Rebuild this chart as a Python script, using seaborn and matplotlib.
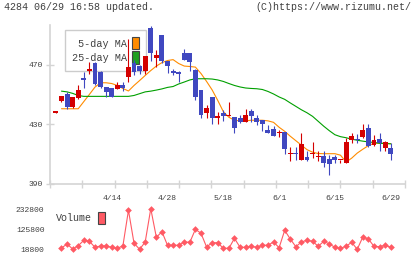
import matplotlib
matplotlib.use("Agg")
import matplotlib.pyplot as plt
from matplotlib.patches import Patch
import numpy as np
import pandas as pd
import seaborn as sns

sns.set_theme(style="white")
plt.rcParams['font.family'] = ['Liberation Mono', 'DejaVu Sans Mono']

# candle data, first candle (index -1) has no volume shown
opens = [437.8, 445.5, 450, 441.5, 447.5, 460.9, 466, 471, 465, 455, 454, 453.8, 456, 461.5, 471, 469,
         465.5, 494.4, 474.5, 490, 472.2, 466, 465, 477.8, 477.8, 466.4, 452.7, 437.8, 448, 434.5, 437.8,
         435.6, 435, 434.5, 431.5, 438.7, 434, 432.7, 426, 426.7, 424, 425, 410, 410.9, 406, 408.2,
         410, 407.8, 408.9, 406.7, 407.8, 406, 404.2, 419.3, 420.4, 421.5, 427.8, 415.8, 420.4, 414.2, 414.2]
highs = [438.2, 449, 451.5, 448.5, 456, 465, 471.5, 472, 465.5, 455, 454, 458, 458, 487, 473, 470,
         476, 496, 479.8, 490, 472.5, 467, 466, 480.5, 478, 467, 453, 442.7, 448.5, 438.2, 439.5,
         445, 435, 436.5, 440, 440, 436.5, 432.7, 429.3, 428.7, 426, 425, 415, 415, 424.4, 412,
         417.8, 412, 412, 409.3, 409.3, 406.4, 421, 424, 423.8, 430, 430, 422.7, 424, 418.7, 417.7]
lows = [437.8, 445, 440, 441, 447, 454, 464, 456, 454, 448, 448, 453.5, 452, 458, 463, 464,
        463.8, 472.7, 468.7, 471, 464.2, 462.7, 458, 473, 466, 446.4, 434, 434.2, 430.5, 430.4, 432,
        435.5, 424.2, 431, 431.5, 431.5, 429.3, 425.5, 424, 422, 421.5, 410, 405.5, 406, 406, 405.3,
        407.5, 405.3, 401.5, 396, 403.8, 403.8, 404.2, 417.5, 417.5, 421, 414.9, 415.5, 412, 412, 406]
closes = [438.2, 448.7, 441.5, 448.2, 452.7, 459.8, 466.5, 457, 455, 451.5, 448, 456, 454, 468.7, 465, 465.5,
          476, 477.5, 476.2, 472.2, 469.3, 464.2, 463.8, 473.3, 471.5, 448.5, 436, 440.9, 434, 434.9, 435.6,
          436, 427.5, 431.5, 436, 435.6, 431.5, 430.5, 424.2, 422.2, 424.5, 413.3, 410.4, 409.8, 417, 406,
          410.4, 408.7, 404.2, 403.3, 406, 406.4, 417.8, 422, 419.3, 426, 415.3, 419.8, 417.5, 417.8, 410.4]

ma5 = [440.4, 440.4, 440.4, 440.4, 445.2, 450, 454.9, 457.8, 457.8, 457.3, 456, 454, 452.3, 456, 459.3,
       462.7, 466, 469, 471.3, 472.7, 473.3, 470.7, 469, 468.7, 468.3, 464, 458.7, 453, 446, 438.5,
       434.7, 432.7, 432.3, 432.3, 432.7, 432.7, 432.7, 432.3, 431.3, 428, 425.3, 422, 419, 416, 413,
       411.3, 410.4, 410.3, 410.3, 410.3, 409.3, 404.7, 407.3, 410.7, 413.3, 415.7, 417.3, 417.3, 417.3, 417]
ma25 = [452.2, 451.7, 450.7, 449.3, 448.7, 448.7, 448.7, 448.7, 448.7, 448.7, 448.7, 448.7, 448.7, 449.3, 450.5,
        451.7, 452.2, 452.9, 453.7, 454.7, 455.3, 457, 458.3, 459.7, 460.5, 460.5, 460.5, 460.3, 459.7, 458.7,
        457.3, 456, 455, 454.3, 454, 453.8, 453.3, 452, 450.3, 448.3, 446.7, 444.3, 442, 439.7, 437.7,
        435.3, 432, 428.7, 425.7, 423, 421.7, 421, 420, 419.3, 418.7, 418.2, 417.8, 417.3, 417.1, 416.9]

volume = [24150, 45550, 18800, 36500, 65300, 60000, 27900, 34850, 34850, 27900,
          22500, 34850, 225800, 49300, 17200, 56250, 234400, 81400, 111400, 38600,
          38600, 38600, 56250, 54600, 124200, 102800, 29500, 52500, 52500, 22500,
          22500, 76000, 27900, 27900, 33200, 27900, 38600, 38600, 56250, 25800,
          118800, 72300, 31100, 56250, 65300, 60000, 33200, 60000, 45550, 27900,
          22500, 33200, 54600, 17200, 83000, 72300, 33200, 31100, 38600, 27900]

date_labels = ["4/14", "4/28", "5/18", "6/1", "6/15", "6/29"]
date_pos = [9, 19, 29, 39, 49, 59]
price_ticks = [390, 430, 470]
vol_ticks = [18800, 125800, 232800]

RED = '#d40000'
BLUE = '#4048c0'
ORANGE = '#ff8c00'
GREEN = '#00a000'
VOLC = '#ff5a64'
AXC = '#d4d4d4'
TXT = '#404040'

candles = pd.DataFrame({'open': opens, 'high': highs, 'low': lows, 'close': closes})
candles['x'] = np.arange(-1, len(candles) - 1)
candles['up'] = candles['close'] >= candles['open']
lines = pd.DataFrame({'x': np.arange(len(ma5)), 'ma5': ma5, 'ma25': ma25, 'vol': volume})

fig = plt.figure(figsize=(4.2, 2.59), dpi=100)
ax = fig.add_axes([50 / 420, 75 / 259, 355 / 420, 159 / 259])
axv = fig.add_axes([50 / 420, 6 / 259, 355 / 420, 48 / 259])
xlim = (-2.06, 61.56)

# candles
cols = np.where(candles['up'], RED, BLUE)
ax.vlines(candles['x'], candles['low'], candles['high'], colors=cols, linewidth=0.8, zorder=4)
body = np.maximum((candles['close'] - candles['open']).abs(), 0.8)
bottom = np.minimum(candles['open'], candles['close'])
ax.bar(candles['x'], body, bottom=bottom, width=0.88, color=cols, linewidth=0, zorder=4)

sns.lineplot(data=lines, x='x', y='ma5', ax=ax, color=ORANGE, linewidth=0.8, zorder=3)
sns.lineplot(data=lines, x='x', y='ma25', ax=ax, color=GREEN, linewidth=0.8, zorder=3)

ax.set_xlim(*xlim)
ax.set_ylim(390, 496.5)
ax.set_xlabel('')
ax.set_ylabel('')
for s in ['top', 'right']:
    ax.spines[s].set_visible(False)
for s in ['left', 'bottom']:
    ax.spines[s].set_color(AXC)
    ax.spines[s].set_linewidth(1.2)
ax.set_yticks(price_ticks)
ax.set_yticklabels([str(t) for t in price_ticks])
ax.tick_params(axis='y', direction='inout', length=6, width=1, color=AXC,
               labelsize=5.8, labelcolor=TXT, pad=2, left=True)
ax.set_xticks(date_pos)
ax.set_xticklabels(date_labels)
ax.set_xticks(np.linspace(xlim[0], xlim[1], 12), minor=True)
ax.tick_params(axis='x', which='major', length=0, labelsize=5.8, labelcolor=TXT, pad=8)
ax.tick_params(axis='x', which='minor', direction='inout', length=6, width=1, color=AXC, bottom=True)
ax.grid(False)

leg = ax.legend(handles=[Patch(facecolor=ORANGE, edgecolor='#444444', linewidth=0.8),
                         Patch(facecolor='#20a020', edgecolor='#444444', linewidth=0.8)],
                labels=['5-day MA', '25-day MA'], markerfirst=False, loc='upper left',
                bbox_to_anchor=(15 / 355, 154 / 159), borderaxespad=0, fontsize=7.3,
                handlelength=0.7, handleheight=1.5, handletextpad=0.5, labelspacing=0.2,
                borderpad=0.7, fancybox=False, edgecolor='#cccccc', framealpha=1)
leg.get_frame().set_linewidth(1.0)
leg.set_zorder(2)
for t in leg.get_texts():
    t.set_color(TXT)

# volume
sns.lineplot(data=lines, x='x', y='vol', ax=axv, color=VOLC, linewidth=0.8,
             marker='D', markersize=3.4, markeredgewidth=0, markerfacecolor=VOLC)
axv.set_xlim(*xlim)
axv.set_ylim(-2600, 254200)
axv.set_xlabel('')
axv.set_ylabel('')
for s in axv.spines.values():
    s.set_visible(False)
axv.set_xticks([])
axv.set_yticks(vol_ticks)
axv.set_yticklabels([str(t) for t in vol_ticks])
axv.tick_params(axis='y', length=0, labelsize=5.8, labelcolor=TXT, pad=4)
axv.grid(False)
vleg = axv.legend(handles=[Patch(facecolor=VOLC, edgecolor='#444444', linewidth=0.8)],
                  labels=['Volume'], markerfirst=False, loc='upper left',
                  bbox_to_anchor=(6 / 355, 41 / 48), borderaxespad=0, fontsize=7.2,
                  handlelength=0.7, handleheight=1.5, handletextpad=0.6, borderpad=0,
                  frameon=False)
for t in vleg.get_texts():
    t.set_color(TXT)

fig.text(4 / 420, 1 - 7 / 259, '4284 06/29 16:58 updated.', ha='left', va='center',
         fontsize=7.2, color=TXT)
fig.text(411 / 420, 1 - 7 / 259, '(C)https://www.rizumu.net/', ha='right', va='center',
         fontsize=7.2, color=TXT)

fig.savefig('out.png', dpi=100)
